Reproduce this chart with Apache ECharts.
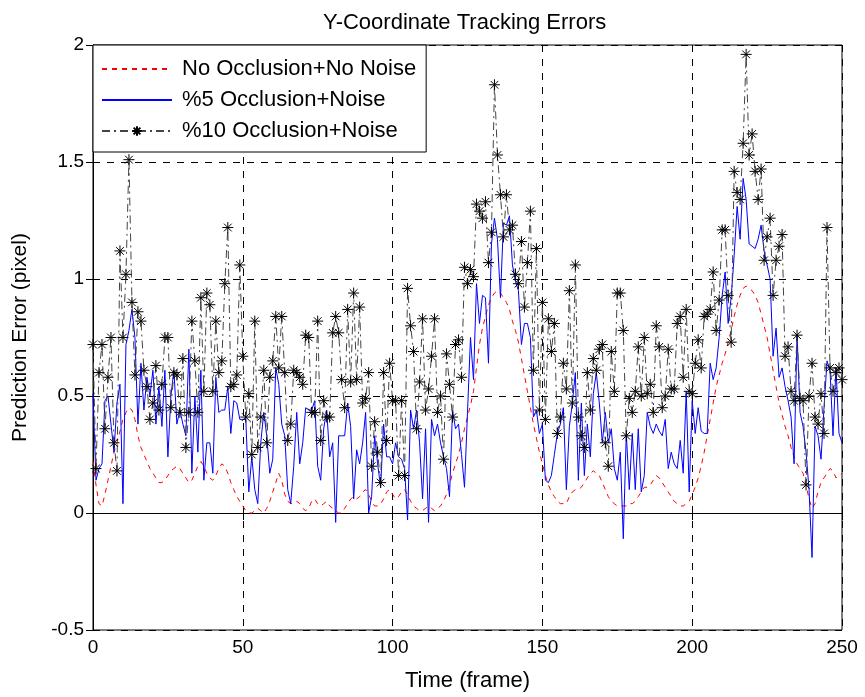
<!DOCTYPE html>
<html>
<head>
<meta charset="utf-8">
<script src="https://cdn.jsdelivr.net/npm/echarts@6/dist/echarts.min.js"></script>
<style>html,body{margin:0;padding:0;background:#fff;}#chart{width:865px;height:697px;}</style>
</head>
<body>
<div id="chart"></div>
<script>
var titleText = 'Y-Coordinate Tracking Errors';
var xTitle = 'Time (frame)';
var yTitle = 'Prediction Error (pixel)';
var seriesNames = ['No Occlusion+No Noise', '%5 Occlusion+Noise', '%10 Occlusion+Noise'];
var xTicks = [0, 50, 100, 150, 200, 250];
var yTicks = [-0.5, 0, 0.5, 1, 1.5, 2];

// values for frames 0..250
var noOcclusion = [
0.22,0.12,0.04,0.03,0.08,0.14,0.2,0.26,0.3,0.35,
0.4,0.43,0.45,0.44,0.4,0.33,0.28,0.25,0.22,0.19,
0.17,0.15,0.13,0.13,0.14,0.16,0.18,0.19,0.2,0.19,
0.17,0.15,0.13,0.14,0.17,0.2,0.22,0.2,0.17,0.15,
0.14,0.16,0.19,0.21,0.2,0.17,0.13,0.1,0.07,0.05,
0.03,0.01,0.0,0.0,0.01,0.02,0.01,0.0,0.02,0.05,
0.09,0.13,0.17,0.14,0.08,0.05,0.04,0.04,0.05,0.04,
0.02,0.01,0.02,0.05,0.06,0.04,0.03,0.04,0.05,0.03,
0.02,0.01,0.0,0.0,0.02,0.04,0.06,0.07,0.06,0.07,
0.09,0.1,0.08,0.05,0.03,0.03,0.04,0.06,0.09,0.1,
0.08,0.06,0.07,0.09,0.1,0.08,0.05,0.03,0.02,0.01,
0.01,0.02,0.03,0.02,0.01,0.02,0.03,0.05,0.08,0.12,
0.17,0.21,0.25,0.3,0.36,0.41,0.46,0.52,0.62,0.72,
0.79,0.84,0.89,0.92,0.94,0.95,0.94,0.92,0.9,0.87,
0.82,0.78,0.73,0.66,0.59,0.52,0.45,0.38,0.32,0.26,
0.21,0.16,0.12,0.09,0.07,0.05,0.04,0.04,0.04,0.07,
0.09,0.1,0.1,0.11,0.13,0.15,0.17,0.18,0.17,0.16,
0.13,0.1,0.07,0.05,0.04,0.03,0.03,0.03,0.03,0.04,
0.04,0.05,0.07,0.09,0.11,0.11,0.12,0.14,0.16,0.15,
0.13,0.11,0.09,0.07,0.05,0.04,0.03,0.03,0.04,0.05,
0.08,0.11,0.15,0.2,0.26,0.33,0.4,0.47,0.54,0.59,
0.64,0.68,0.73,0.78,0.84,0.89,0.93,0.96,0.97,0.96,
0.95,0.93,0.9,0.85,0.8,0.75,0.68,0.61,0.54,0.47,
0.42,0.37,0.33,0.28,0.24,0.21,0.19,0.17,0.12,0.06,
0.02,0.04,0.09,0.13,0.15,0.17,0.19,0.18,0.15,0.16,
0.17
];

var occlusion5 = [
0.51,0.14,0.19,0.21,0.48,0.5,0.38,0.26,0.47,0.55,
0.04,0.72,0.78,0.87,0.75,0.38,0.64,0.44,0.58,0.5,
0.61,0.38,0.54,0.37,0.61,0.24,0.5,0.61,0.38,0.44,
0.38,0.33,0.7,0.17,0.5,0.26,0.61,0.14,0.3,0.3,
0.17,0.58,0.43,0.44,0.44,0.54,0.34,0.48,0.47,0.4,
0.4,0.4,0.09,0.24,0.1,0.04,0.3,0.43,0.33,0.17,
0.23,0.62,0.55,0.38,0.33,0.1,0.04,0.2,0.43,0.21,
0.3,0.45,0.44,0.44,0.48,0.2,0.14,0.36,0.44,0.24,
0.3,-0.04,0.33,0.33,0.33,0.47,0.37,0.06,0.27,0.21,
0.3,0.43,0.0,0.07,0.33,0.21,0.11,0.38,0.24,0.24,
0.21,0.3,0.24,0.23,0.19,-0.03,0.44,0.36,0.44,0.3,
0.06,0.36,-0.04,0.4,0.33,0.38,0.3,0.24,0.19,0.07,
0.44,0.36,0.38,0.25,0.11,0.43,0.75,0.57,0.98,0.81,
0.93,0.92,0.64,1.15,1.26,1.17,0.92,1.24,1.23,1.27,
1.06,0.99,0.95,0.72,0.81,0.81,0.75,0.41,0.44,0.34,
0.38,0.14,0.13,0.16,0.25,0.34,0.38,0.45,0.1,0.37,
0.47,0.6,0.14,0.47,0.16,0.38,0.24,0.51,0.6,0.47,
0.3,0.43,0.3,0.36,0.19,0.14,0.26,-0.11,0.34,0.1,
0.34,0.1,0.36,0.09,0.16,0.43,0.37,0.34,0.38,0.35,
0.33,0.4,0.19,0.26,0.21,0.19,0.31,0.17,0.52,0.09,
0.48,0.34,0.45,0.35,0.34,0.34,0.64,0.57,0.62,0.75,
0.93,1.03,0.81,0.92,1.1,1.31,1.17,1.43,1.34,1.15,
1.14,1.13,1.17,1.23,1.12,1.06,1.0,0.67,0.79,0.58,
0.62,0.54,0.48,0.41,0.21,0.76,0.43,0.37,0.26,0.1,
-0.19,0.37,0.33,0.23,0.45,0.65,0.61,0.33,0.62,0.34,
0.3
];

var occlusion10 = [
0.72,0.19,0.6,0.72,0.36,0.58,0.75,0.3,0.18,1.12,
0.75,1.02,1.51,0.9,0.59,0.86,0.82,0.61,0.54,0.4,
0.47,0.63,0.44,0.55,0.75,0.75,0.45,0.6,0.59,0.43,
0.66,0.28,0.43,0.82,0.65,0.43,0.92,0.52,0.94,0.89,
0.52,0.82,0.6,0.65,0.98,1.22,0.54,0.55,0.59,1.06,
0.67,0.41,0.51,0.25,0.82,0.28,0.41,0.61,0.3,0.58,
0.65,0.84,0.62,0.84,0.6,0.31,0.38,0.61,0.6,0.58,
0.55,0.76,0.75,0.43,0.43,0.82,0.31,0.48,0.41,0.41,
0.77,0.84,0.77,0.57,0.45,0.87,0.56,0.94,0.57,0.88,
0.47,0.49,0.6,0.2,0.39,0.26,0.13,0.6,0.31,0.64,
0.48,0.48,0.16,0.48,0.16,0.96,0.8,0.69,0.36,0.56,
0.83,0.44,0.53,0.67,0.83,0.43,0.5,0.23,0.68,0.55,
0.41,0.72,0.74,0.58,1.05,0.98,1.04,1.01,1.32,1.29,
1.26,1.33,1.07,1.2,1.83,1.53,1.36,1.18,1.36,1.21,
1.23,1.02,0.98,1.16,0.88,1.07,1.29,0.61,1.13,0.44,
0.9,0.4,0.83,0.69,0.81,0.34,0.41,0.64,0.53,0.95,
0.47,1.06,0.41,0.33,0.28,0.6,0.44,0.66,0.61,0.7,
0.72,0.3,0.2,0.69,0.52,0.94,0.94,0.78,0.33,0.49,
0.43,0.52,0.71,0.5,0.75,0.51,0.55,0.43,0.8,0.71,
0.45,0.5,0.7,0.53,0.53,0.81,0.84,0.58,0.87,0.52,
0.51,0.64,0.74,0.62,0.84,0.85,0.87,1.03,0.78,0.91,
1.21,1.21,0.93,0.73,1.46,1.37,1.34,1.58,1.96,1.53,
1.62,1.46,1.34,1.47,1.08,1.18,1.26,0.93,1.08,1.14,
1.19,0.67,0.71,0.52,0.48,0.76,0.49,0.48,0.12,0.5,
0.64,0.41,0.38,0.51,0.34,1.22,0.62,0.52,0.6,0.62,
0.57
];

function pairs(arr) { return arr.map(function (v, i) { return [i, v]; }); }

var FONT = 'Liberation Sans, Arial, sans-serif';
var chart = echarts.init(document.getElementById('chart'), null, { renderer: 'canvas' });
var asterisk = 'path://M5,0L5,10M0,5L10,5M1.5,1.5L8.5,8.5M1.5,8.5L8.5,1.5';

var option = {
  animation: false,
  backgroundColor: '#fff',
  title: {
    text: titleText, left: 318, top: 7,
    textStyle: { fontFamily: FONT, fontSize: 22, fontWeight: 'normal', color: '#000' }
  },
  grid: { left: 93, right: 23, top: 45, bottom: 62, show: true, borderColor: '#000', borderWidth: 1, backgroundColor: '#fff' },
  legend: {
    orient: 'vertical', left: 93, top: 45,
    backgroundColor: '#fff', borderColor: '#000', borderWidth: 1,
    padding: [13, 10, 10, 8],
    itemWidth: 70, itemHeight: 12, itemGap: 9,
    textStyle: { fontFamily: FONT, fontSize: 22, color: '#000', padding: [0, 0, 0, 5] },
    data: [
      { name: seriesNames[0], itemStyle: { opacity: 0 } },
      { name: seriesNames[1], itemStyle: { opacity: 0 } },
      { name: seriesNames[2] }
    ]
  },
  xAxis: [{
    type: 'value', min: 0, max: 250, interval: 50,
    name: xTitle, nameLocation: 'middle', nameGap: 40,
    nameTextStyle: { fontFamily: FONT, fontSize: 22, color: '#000' },
    axisLine: { show: true, lineStyle: { color: '#000', width: 1 } },
    axisTick: { show: true, inside: true, length: 7, lineStyle: { color: '#000' } },
    axisLabel: { fontFamily: FONT, fontSize: 19, color: '#000', margin: 8,
      formatter: function (v) { return xTicks.indexOf(v) >= 0 ? String(v) : ''; } },
    splitLine: { show: true, lineStyle: { color: '#000', type: [7, 7], width: 1 } }
  }, {
    type: 'value', min: 0, max: 250, interval: 50, position: 'top',
    axisLine: { show: true, lineStyle: { color: '#000' } },
    axisTick: { show: true, inside: true, length: 7, lineStyle: { color: '#000' } },
    axisLabel: { show: false }, splitLine: { show: false }
  }],
  yAxis: [{
    type: 'value', min: -0.5, max: 2, interval: 0.5,
    name: yTitle, nameLocation: 'middle', nameGap: 62,
    nameTextStyle: { fontFamily: FONT, fontSize: 21, color: '#000' },
    axisLine: { show: true, lineStyle: { color: '#000', width: 1 } },
    axisTick: { show: true, inside: true, length: 7, lineStyle: { color: '#000' } },
    axisLabel: { fontFamily: FONT, fontSize: 19, color: '#000', margin: 9,
      formatter: function (v) { return yTicks.indexOf(v) >= 0 ? String(v) : ''; } },
    splitLine: { show: true, lineStyle: { color: '#000', type: [7, 7], width: 1 } }
  }, {
    type: 'value', min: -0.5, max: 2, interval: 0.5, position: 'right',
    axisLine: { show: true, lineStyle: { color: '#000' } },
    axisTick: { show: true, inside: true, length: 7, lineStyle: { color: '#000' } },
    axisLabel: { show: false }, splitLine: { show: false }
  }],
  series: [{
    name: seriesNames[0], type: 'line', data: pairs(noOcclusion),
    xAxisIndex: 0, yAxisIndex: 0,
    symbol: 'none', lineStyle: { color: '#ff0000', width: 1, type: [5, 5] },
    itemStyle: { color: '#ff0000' }
  }, {
    name: seriesNames[1], type: 'line', data: pairs(occlusion5),
    xAxisIndex: 0, yAxisIndex: 0,
    symbol: 'none', lineStyle: { color: '#0000ff', width: 1 },
    itemStyle: { color: '#0000ff' }
  }, {
    name: seriesNames[2], type: 'line', data: pairs(occlusion10),
    xAxisIndex: 0, yAxisIndex: 0,
    symbol: asterisk, symbolSize: 11, showSymbol: true, showAllSymbol: true,
    lineStyle: { color: '#444', width: 1, type: [8, 4, 2, 4] },
    itemStyle: { color: 'rgba(0,0,0,0)', borderColor: '#000', borderWidth: 1 }
  }]
};
chart.setOption(option);
</script>
</body>
</html>
